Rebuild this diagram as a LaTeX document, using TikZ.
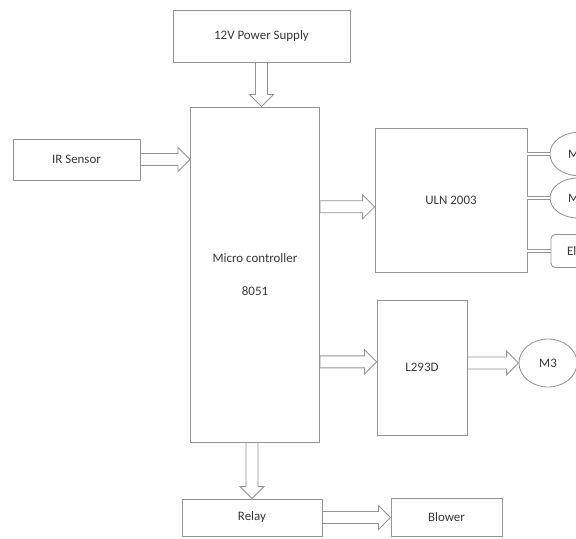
\documentclass[tikz,border=0pt]{standalone}
\usepackage{fontspec}
\setmainfont{Carlito}
\usetikzlibrary{calc,shapes.geometric}

\colorlet{linec}{black!42}
\colorlet{textc}{black!78}

\begin{document}
\begin{tikzpicture}[
  x=.025cm,y=-.025cm,
  font=\fontsize{9.2}{11}\selectfont,
  box/.style={draw=linec,line width=.6pt,text=textc,align=center,inner sep=0pt},
  motor/.style={box,ellipse},
  cut/.style 2 args={label={[text=textc,xshift=#2]center:#1}},
  barrow/.style={draw=linec,line width=.6pt,line join=miter,
    to path={
      ($(\tikztostart)!.15cm!90:(\tikztotarget)$)
      -- ($($(\tikztotarget)!.3cm!(\tikztostart)$)!.15cm!90:(\tikztotarget)$)
      -- ($($(\tikztotarget)!.3cm!(\tikztostart)$)!.3cm!90:(\tikztotarget)$)
      -- (\tikztotarget)
      -- ($($(\tikztotarget)!.3cm!(\tikztostart)$)!.3cm!-90:(\tikztotarget)$)
      -- ($($(\tikztotarget)!.3cm!(\tikztostart)$)!.15cm!-90:(\tikztotarget)$)
      -- ($(\tikztostart)!.15cm!-90:(\tikztotarget)$) -- cycle
    }},
  dline/.style={draw=linec,double=white,double distance=2pt,line width=.6pt}
]
\useasboundingbox[fill=white] (0,0) rectangle (576,538);
\clip (0,0) rectangle (576,538);

% Supply, sensor and controller.
\node[box,minimum width=4.425cm,minimum height=1.3cm] (ps) at (261.5,36) {12V Power Supply};
\node[box,minimum width=3.175cm,minimum height=1.025cm] (ir) at (76.5,159.5) {IR Sensor};
\node[box,minimum width=3.225cm,minimum height=8.375cm] (mcu) at (255,274.5) {Micro controller\\[12pt]8051};
\draw[barrow] (ps.south) to (ps.south |- mcu.north);
\draw[barrow] (ir.east) to (mcu.west |- ir.east);

% Drivers and loads.
\node[box,minimum width=3.8cm,minimum height=3.6cm] (uln) at (451,200) {ULN 2003};
\node[motor,minimum width=1.4cm,minimum height=1.08cm,cut={M1}{-.03cm}] (m1) at (578,154) {};
\node[motor,minimum width=1.4cm,minimum height=1.0cm,cut={M2}{-.03cm}] (m2) at (578,198) {};
\node[box,rounded corners=3pt,minimum width=1.4cm,minimum height=.825cm,cut={El}{-.18cm}] (el) at (579,251) {};
\coordinate (ulnin) at ([yshift=-.17cm]uln.west);
\draw[barrow] (mcu.east |- ulnin) to (ulnin);
\draw[dline] (uln.east |- m1.west) -- (m1.west);
\draw[dline] (uln.east |- m2.west) -- (m2.west);
\draw[dline] (uln.east |- el.west) -- (el.west);

\node[box,minimum width=2.25cm,minimum height=3.375cm] (l293) at (422,367.5) {L293D};
\node[motor,minimum width=1.45cm,minimum height=1.2cm] (m3) at (548,363) {M3};
\coordinate (l293in) at ([yshift=.14cm]l293.west);
\draw[barrow] (mcu.east |- l293in) to (l293in);
\draw[barrow] (l293.east |- m3.west) to (m3.west);

% Relay and blower.
\node[box,minimum width=3.5cm,minimum height=.925cm] (relay) at (252,517.5) {Relay};
\node[box,minimum width=2.775cm,minimum height=.95cm] (blower) at (446.5,517.5) {Blower};
\draw[barrow] (mcu.south -| relay.north) to (relay.north);
\draw[barrow] (relay.east) to (blower.west);
\end{tikzpicture}
\end{document}
